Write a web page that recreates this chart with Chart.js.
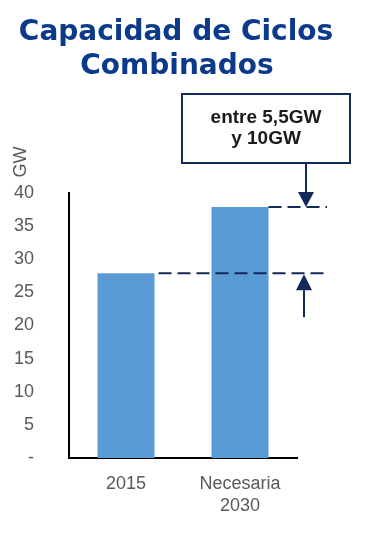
<!DOCTYPE html>
<html>
<head>
<meta charset="utf-8">
<script src="https://cdn.jsdelivr.net/npm/chart.js@4"></script>
<style>
  html,body{margin:0;padding:0;background:#fff;}
  #wrap{width:365px;height:551px;}
</style>
</head>
<body>
<div id="wrap"><canvas id="c" width="365" height="551"></canvas></div>
<script>
const categories = [["2015"], ["Necesaria", "2030"]];
const capacityGW = [27.9, 37.9];
const yTicks = [0, 5, 10, 15, 20, 25, 30, 35, 40];
const titleLines = ["Capacidad de Ciclos", "Combinados"];
const yAxisTitle = "GW";
const noteLines = ["entre 5,5GW", "y 10GW"];

const NAVY = '#13295a';
const GRAY = '#595959';

const notePlugin = {
  id: 'notePlugin',
  afterDraw(chart) {
    const ctx = chart.ctx;
    const ys = chart.scales.y;
    const area = chart.chartArea;
    const bars = chart.getDatasetMeta(0).data;
    const yLow = ys.getPixelForValue(capacityGW[0]);
    const yHigh = ys.getPixelForValue(capacityGW[1]);
    const lineEnd = area.right + 30;
    const arrowX = area.right + 9;

    // title
    ctx.save();
    ctx.fillStyle = '#0b3a8b';
    ctx.font = 'bold 28px "DejaVu Sans", Verdana, sans-serif';
    ctx.textAlign = 'center';
    ctx.textBaseline = 'middle';
    ctx.fillText(titleLines[0], 176, 33);
    ctx.fillText(titleLines[1], 177, 67);
    ctx.restore();

    // axis title GW
    ctx.save();
    ctx.fillStyle = GRAY;
    ctx.font = '18px "Liberation Sans", Arial, sans-serif';
    ctx.textAlign = 'center';
    ctx.textBaseline = 'middle';
    ctx.translate(21, 162);
    ctx.rotate(-Math.PI / 2);
    ctx.fillText(yAxisTitle, 0, 0);
    ctx.restore();

    ctx.save();
    ctx.strokeStyle = NAVY;
    ctx.lineWidth = 2;
    ctx.setLineDash([13, 6]);
    // dashed level lines
    ctx.beginPath();
    ctx.moveTo(bars[1].x + bars[1].width / 2, yHigh);
    ctx.lineTo(lineEnd, yHigh);
    ctx.stroke();
    ctx.beginPath();
    ctx.moveTo(bars[0].x + bars[0].width / 2 + 4, yLow);
    ctx.lineTo(lineEnd, yLow);
    ctx.stroke();
    ctx.setLineDash([]);

    // box
    const bx = 182, by = 94, bw = 168, bh = 69;
    ctx.fillStyle = '#fff';
    ctx.fillRect(bx, by, bw, bh);
    ctx.strokeRect(bx, by, bw, bh);
    ctx.fillStyle = '#1a1a1a';
    ctx.font = 'bold 19px "Liberation Sans", Arial, sans-serif';
    ctx.textAlign = 'center';
    ctx.textBaseline = 'middle';
    ctx.fillText(noteLines[0], bx + bw / 2, 118);
    ctx.fillText(noteLines[1], bx + bw / 2, 139);

    // down arrow
    const headH = 15, headW = 8;
    ctx.fillStyle = NAVY;
    ctx.beginPath();
    ctx.moveTo(arrowX, by + bh);
    ctx.lineTo(arrowX, yHigh - headH + 2);
    ctx.stroke();
    ctx.beginPath();
    ctx.moveTo(arrowX - headW, yHigh - headH);
    ctx.lineTo(arrowX + headW, yHigh - headH);
    ctx.lineTo(arrowX, yHigh);
    ctx.closePath();
    ctx.fill();

    // up arrow
    const ax2 = arrowX - 2;
    ctx.beginPath();
    ctx.moveTo(ax2, yLow + 44);
    ctx.lineTo(ax2, yLow + headH + 2);
    ctx.stroke();
    ctx.beginPath();
    ctx.moveTo(ax2 - headW, yLow + headH + 2);
    ctx.lineTo(ax2 + headW, yLow + headH + 2);
    ctx.lineTo(ax2, yLow + 1);
    ctx.closePath();
    ctx.fill();
    ctx.restore();
  }
};

new Chart(document.getElementById('c'), {
  type: 'bar',
  data: {
    labels: categories,
    datasets: [{
      data: capacityGW,
      backgroundColor: '#5b9bd5',
      borderWidth: 0,
      categoryPercentage: 0.5,
      barPercentage: 1.0
    }]
  },
  options: {
    responsive: false,
    animation: false,
    devicePixelRatio: 1,
    layout: { padding: { left: 10, right: 68, top: 193, bottom: 0 } },
    plugins: {
      legend: { display: false },
      tooltip: { enabled: false },
      title: { display: false }
    },
    scales: {
      x: {
        grid: { display: false, drawTicks: false },
        border: { display: true, color: '#000', width: 2 },
        ticks: {
          color: GRAY,
          font: { family: '"Liberation Sans", Arial, sans-serif', size: 18, lineHeight: 22 / 18 },
          padding: 15
        },
        afterFit(scale) { scale.height = 93; }
      },
      y: {
        min: 0,
        max: 40,
        afterBuildTicks(scale) { scale.ticks = yTicks.map(v => ({ value: v })); },
        grid: { display: false, drawTicks: false },
        border: { display: true, color: '#000', width: 2 },
        ticks: {
          color: GRAY,
          font: { family: '"Liberation Sans", Arial, sans-serif', size: 18 },
          padding: 35,
          callback: (v) => (v === 0 ? '-' : String(v))
        },
        afterFit(scale) { scale.width = 59; }
      }
    }
  },
  plugins: [notePlugin]
});
</script>
</body>
</html>
